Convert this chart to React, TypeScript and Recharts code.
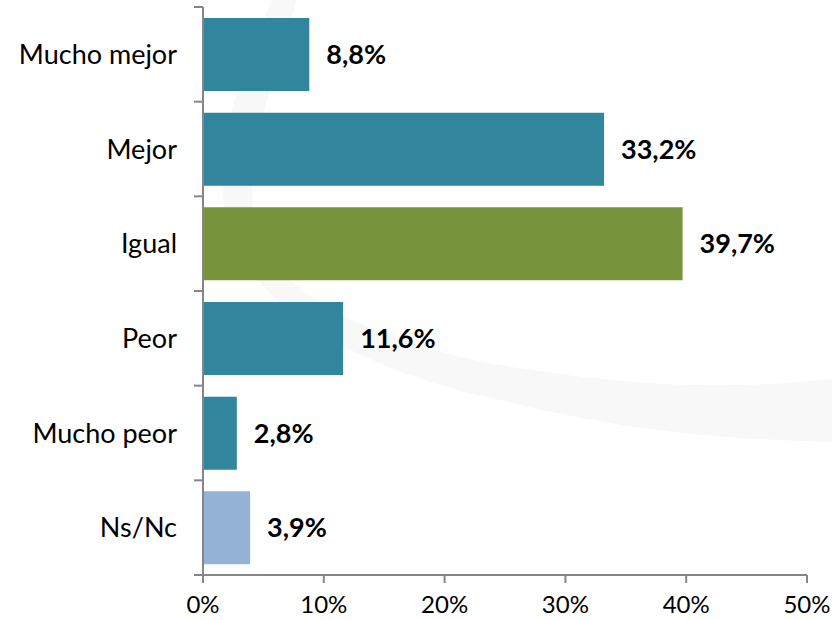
import React from 'react';
import { BarChart, Bar, XAxis, YAxis, Cell, LabelList } from 'recharts';

const categories = ['Mucho mejor', 'Mejor', 'Igual', 'Peor', 'Mucho peor', 'Ns/Nc'];
const values = [8.8, 33.2, 39.7, 11.6, 2.8, 3.9];
const barColors = ['#31859C', '#31859C', '#77933C', '#31859C', '#31859C', '#95B3D7'];
const xTicks = [0, 10, 20, 30, 40, 50];

const data = categories.map((name, i) => ({ name, value: values[i] }));

const FONT = 'Lato, "Open Sans", sans-serif';
const AXIS_COLOR = '#868686';
const TICK_SIZE = 9;
const TICK_MARGIN = 17;

const fmt = (v: number) => `${v.toFixed(1).replace('.', ',')}%`;

const YTick = (props: any) => {
  const { x, y, payload, index, visibleTicksCount } = props;
  const half = typeof payload?.offset === 'number' && payload.offset > 0 ? payload.offset : 47.33;
  const axisX = x + TICK_MARGIN + TICK_SIZE;
  const last = index === (visibleTicksCount ?? categories.length) - 1;
  return (
    <g>
      <line x1={axisX - TICK_SIZE} x2={axisX} y1={y - half} y2={y - half} stroke={AXIS_COLOR} strokeWidth={2} />
      {last && (
        <line x1={axisX - TICK_SIZE} x2={axisX} y1={y + half} y2={y + half} stroke={AXIS_COLOR} strokeWidth={2} />
      )}
      <text x={x} y={y} dy="0.355em" textAnchor="end" fill="#000" fontSize={27} fontFamily={FONT}>
        {payload.value}
      </text>
    </g>
  );
};

export default function App() {
  return (
    <div style={{ position: 'absolute', left: 0, top: 0, width: 832, height: 620, background: '#fff', overflow: 'hidden' }}>
      <svg width={832} height={620} style={{ position: 'absolute', left: 0, top: 0 }}>
        <path
          d="M 272 0 C 245 70, 205 150, 230 230 C 260 320, 380 375, 500 400 C 600 425, 700 440, 840 442 L 840 378 C 720 392, 620 385, 500 365 C 390 345, 280 300, 258 235 C 240 180, 270 80, 297 0 Z"
          fill="#f8f8f8"
        />
      </svg>
      <div style={{ position: 'absolute', left: 0, top: 0 }}>
        <BarChart
          width={832}
          height={620}
          data={data}
          layout="vertical"
          margin={{ top: 7, right: 25, bottom: 0, left: 0 }}
        >
          <XAxis
            type="number"
            domain={[0, 50]}
            ticks={xTicks}
            interval={0}
            tickFormatter={(v: number) => `${v}%`}
            axisLine={{ stroke: AXIS_COLOR, strokeWidth: 2 }}
            tickLine={{ stroke: AXIS_COLOR, strokeWidth: 2 }}
            tickSize={8}
            tickMargin={13}
            height={45}
            tick={{ fill: '#000', fontSize: 24, fontFamily: FONT }}
          />
          <YAxis
            type="category"
            dataKey="name"
            width={203}
            axisLine={{ stroke: AXIS_COLOR, strokeWidth: 2 }}
            tickLine={false}
            tickSize={TICK_SIZE}
            tickMargin={TICK_MARGIN}
            interval={0}
            tick={<YTick />}
          />
          <Bar dataKey="value" barSize={73} isAnimationActive={false}>
            {data.map((d, i) => (
              <Cell key={d.name} fill={barColors[i]} />
            ))}
            <LabelList
              dataKey="value"
              position="right"
              offset={17}
              formatter={(v: any) => fmt(Number(v))}
              style={{ fill: '#000', fontSize: 27, fontWeight: 700, fontFamily: FONT }}
            />
          </Bar>
        </BarChart>
      </div>
    </div>
  );
}
